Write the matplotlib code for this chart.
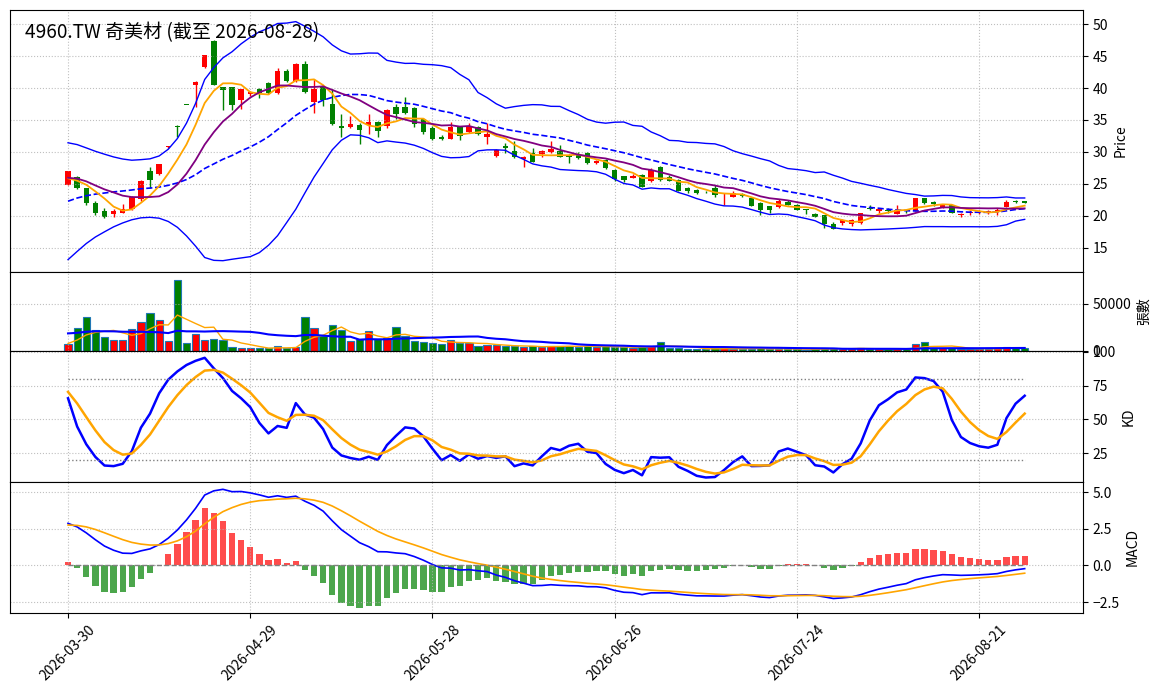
import numpy as np
import pandas as pd
import matplotlib
matplotlib.use("Agg")
import matplotlib.pyplot as plt
from matplotlib.ticker import MultipleLocator

plt.rcParams["font.family"] = ["Noto Sans CJK TC", "DejaVu Sans"]

ticker = "4960.TW"
name = "奇美材"
last_day = "2026-08-28"
holidays = ["2026-04-03", "2026-04-06", "2026-05-01", "2026-06-19"]
dates = pd.bdate_range("2026-03-30", last_day, freq="C", holidays=holidays)

# 19 sessions before the window, only used to warm up the indicators
pre_open = [14.1, 14.4, 14.9, 15.6, 16.4, 17.3, 18.4, 20.0, 21.7, 23.6,
            25.1, 25.6, 26.4, 26.7, 26.0, 25.6, 26.1, 25.3, 25.7]
pre_high = [14.5, 15.0, 15.7, 16.5, 17.4, 18.5, 20.1, 21.8, 23.7, 25.2,
            25.8, 26.6, 27.4, 27.0, 26.3, 26.5, 26.3, 25.9, 25.9]
pre_low = [13.9, 14.2, 14.7, 15.4, 16.2, 17.1, 18.2, 19.8, 21.5, 23.3,
           24.8, 25.3, 26.0, 25.8, 25.2, 25.4, 25.0, 25.1, 25.1]
pre_close = [14.3, 14.8, 15.5, 16.3, 17.2, 18.3, 19.9, 21.6, 23.5, 25.0,
             25.5, 26.3, 26.8, 26.0, 25.5, 26.2, 25.2, 25.6, 25.4]
pre_volume = [12000, 13000, 12500, 14000, 12900, 20000, 25000, 30000, 45000, 38000,
              28000, 25000, 22000, 18000, 15600, 6000, 9000, 8500, 8400]

open_ = [24.9, 26.1, 24.3, 22.0, 20.8, 20.25, 20.5, 21.05, 22.6, 27.05,
         26.5, 30.7, 34.1, 37.4, 40.4, 43.25, 47.4, 40.1, 40.1, 38.1,
         39.0, 39.85, 40.8, 39.2, 42.7, 41.15, 43.8, 37.75, 40.1, 37.5,
         34.1, 33.85, 34.25, 34.2, 34.7, 34.0, 37.1, 37.1, 36.9, 35.15,
         33.75, 32.35, 32.1, 33.95, 33.05, 33.85, 32.3, 29.3, 31.0, 30.2,
         28.9, 29.9, 29.65, 30.05, 30.1, 29.6, 29.5, 29.9, 28.25, 28.8,
         27.2, 26.25, 25.95, 26.35, 25.5, 27.7, 26.15, 25.65, 24.4, 24.1,
         23.75, 24.35, 23.05, 23.0, 23.5, 22.85, 22.0, 21.55, 21.45, 22.1,
         21.7, 21.05, 20.3, 20.15, 18.7, 18.85, 18.7, 18.85, 21.3, 20.7,
         20.9, 20.35, 20.95, 20.8, 22.8, 22.1, 21.3, 21.7, 20.15, 20.5,
         20.55, 20.45, 20.7, 21.45, 22.35, 22.3]
high = [27.1, 26.3, 24.4, 22.35, 21.3, 21.05, 21.8, 23.1, 25.6, 27.6,
        28.15, 31.0, 34.2, 37.4, 41.1, 45.1, 47.5, 40.2, 40.2, 39.9,
        39.6, 40.0, 41.0, 43.1, 42.9, 43.9, 44.15, 41.4, 40.3, 39.85,
        36.0, 35.7, 34.5, 35.9, 34.9, 36.7, 37.5, 38.65, 37.1, 35.3,
        34.1, 32.6, 34.75, 34.1, 34.5, 34.0, 34.5, 30.4, 31.35, 31.75,
        29.4, 30.55, 30.3, 31.7, 31.05, 29.7, 29.95, 30.0, 28.7, 28.9,
        27.3, 26.3, 26.6, 26.5, 27.45, 27.8, 26.35, 25.7, 24.5, 24.2,
        23.85, 24.85, 23.65, 23.9, 23.65, 22.9, 22.1, 21.6, 22.7, 22.45,
        21.8, 21.15, 20.4, 20.2, 19.0, 19.5, 19.5, 20.45, 21.7, 21.3,
        21.3, 21.7, 21.05, 22.85, 22.85, 22.35, 21.75, 21.75, 20.5, 20.85,
        20.9, 20.9, 21.3, 22.5, 22.55, 22.4]
low = [24.8, 24.2, 21.7, 20.15, 19.6, 19.85, 20.4, 20.9, 22.4, 24.4,
       26.4, 30.6, 32.3, 37.3, 37.0, 43.1, 40.4, 36.55, 36.55, 36.7,
       38.7, 38.4, 39.0, 39.1, 40.9, 41.0, 39.2, 36.1, 37.25, 34.2,
       32.3, 33.7, 31.2, 32.8, 32.3, 33.8, 35.15, 35.9, 33.85, 32.8,
       31.8, 31.8, 32.0, 31.9, 32.9, 32.6, 31.2, 29.2, 29.9, 29.1,
       27.6, 28.4, 29.2, 29.9, 29.2, 28.35, 28.9, 28.1, 28.1, 27.4,
       25.5, 25.3, 25.9, 24.5, 25.3, 25.5, 25.4, 23.85, 23.65, 23.5,
       23.6, 22.9, 21.7, 22.95, 23.0, 21.5, 20.15, 20.5, 21.3, 21.65,
       20.9, 20.3, 19.85, 18.05, 17.9, 18.6, 18.45, 18.8, 20.9, 20.45,
       20.45, 20.3, 20.45, 20.75, 21.9, 21.6, 21.2, 20.45, 19.9, 20.1,
       20.25, 20.25, 20.15, 21.4, 21.95, 21.95]
close = [27.05, 24.3, 22.0, 20.4, 19.85, 20.7, 21.15, 23.0, 25.5, 25.6,
         28.1, 30.95, 33.85, 37.35, 41.0, 45.1, 40.5, 39.7, 37.4, 39.85,
         39.3, 39.2, 39.2, 42.7, 41.05, 43.8, 39.35, 39.85, 38.2, 34.4,
         33.7, 34.4, 33.5, 34.7, 33.2, 36.6, 35.9, 36.1, 34.3, 33.15,
         31.95, 32.0, 33.95, 32.55, 34.1, 32.8, 32.8, 30.35, 30.6, 29.15,
         29.15, 28.5, 30.1, 30.45, 29.25, 29.15, 29.05, 28.2, 28.55, 27.45,
         25.75, 25.65, 26.3, 24.55, 27.2, 25.65, 25.5, 23.9, 23.9, 23.55,
         23.7, 23.3, 23.1, 23.55, 23.15, 21.55, 20.9, 20.95, 22.35, 21.7,
         20.95, 20.85, 19.9, 18.7, 18.0, 19.3, 19.3, 20.4, 21.15, 21.05,
         20.7, 20.95, 20.8, 22.8, 21.95, 21.8, 21.7, 20.5, 20.25, 20.6,
         20.65, 20.7, 20.95, 22.25, 22.1, 22.0]
volume = [7100, 24300, 36000, 22100, 14600, 11400, 11400, 23200, 30700, 40300,
          32800, 10400, 75700, 8200, 17800, 11400, 12500, 11400, 3900, 2500,
          2500, 2800, 2800, 5000, 2800, 3600, 36000, 24300, 16000, 27500,
          22500, 10000, 12500, 21000, 12500, 13200, 25300, 15700, 10400, 9300,
          8200, 7100, 11400, 8200, 8200, 5000, 6100, 6100, 5000, 5000,
          3600, 5000, 3600, 5400, 5400, 5000, 4300, 5000, 3600, 4600,
          4300, 3600, 2900, 4300, 5000, 9600, 3200, 2500, 2100, 1800,
          1500, 2600, 3200, 2200, 1600, 2400, 2600, 1900, 2300, 1500,
          1700, 1400, 1600, 2800, 2500, 2100, 2400, 2900, 1900, 1700,
          1500, 2000, 1600, 7500, 8900, 3500, 2600, 3000, 2300, 1800,
          1700, 2200, 2500, 4300, 3500, 3000]

n_pre = len(pre_close)
df = pd.DataFrame({
    "open": pre_open + open_,
    "high": pre_high + high,
    "low": pre_low + low,
    "close": pre_close + close,
    "volume": pre_volume + volume,
})

c = df["close"]
df["ma5"] = c.rolling(5).mean()
df["ma10"] = c.rolling(10).mean()
df["ma20"] = c.rolling(20).mean()
std20 = c.rolling(20).std()
df["bb_up"] = df["ma20"] + 2 * std20
df["bb_dn"] = df["ma20"] - 2 * std20
df["vma5"] = df["volume"].rolling(5).mean()
df["vma20"] = df["volume"].rolling(20).mean()

low9 = df["low"].rolling(9, min_periods=1).min()
high9 = df["high"].rolling(9, min_periods=1).max()
rsv = ((c - low9) / (high9 - low9) * 100).fillna(50)
k_vals, d_vals = [], []
k_prev, d_prev = 50.0, 50.0
for r in rsv:
    k_prev = k_prev * 2 / 3 + r / 3
    d_prev = d_prev * 2 / 3 + k_prev / 3
    k_vals.append(k_prev)
    d_vals.append(d_prev)
df["k"] = k_vals
df["d"] = d_vals

ema12 = c.ewm(span=12, adjust=False).mean()
ema26 = c.ewm(span=26, adjust=False).mean()
df["dif"] = ema12 - ema26
df["dea"] = df["dif"].ewm(span=9, adjust=False).mean()
df["osc"] = 2 * (df["dif"] - df["dea"])

df = df.iloc[n_pre:].reset_index(drop=True)
x = np.arange(len(df))
up = df["close"] > df["open"]
colors = np.where(up, "red", "green")

fig, (ax1, ax2, ax3, ax4) = plt.subplots(
    4, 1, sharex=True, figsize=(11.63, 6.98), dpi=100,
    gridspec_kw={"height_ratios": [4, 1.2, 2, 2]})
fig.subplots_adjust(left=10 / 1163, right=1083 / 1163, top=1 - 10 / 698,
                    bottom=1 - 613 / 698, hspace=0)

# price
ax1.vlines(x, df["low"], df["high"], color=colors, linewidth=1)
body = np.maximum((df["close"] - df["open"]).abs(), 0.08)
ax1.bar(x, body, bottom=np.minimum(df["open"], df["close"]), width=0.6, color=colors)
ax1.plot(x, df["bb_up"], color="blue", linewidth=1)
ax1.plot(x, df["bb_dn"], color="blue", linewidth=1)
ax1.plot(x, df["ma20"], color="blue", linestyle="--", linewidth=1.2)
ax1.plot(x, df["ma5"], color="orange", linewidth=1.3)
ax1.plot(x, df["ma10"], color="purple", linewidth=1.3)
ax1.set_ylim(11.2, 52.2)
ax1.yaxis.set_major_locator(MultipleLocator(5))
ax1.set_ylabel("Price")
ax1.text(0.014, 0.955, f"{ticker} {name} (截至 {last_day})", transform=ax1.transAxes,
         fontsize=13.7, va="top")

# volume
ax2.bar(x, df["volume"], width=0.8, color=colors, edgecolor="#1f77b4", linewidth=0.8)
ax2.plot(x, df["vma5"], color="orange", linewidth=1)
ax2.plot(x, df["vma20"], color="blue", linewidth=1.5)
ax2.set_ylim(0, 83500)
ax2.yaxis.set_major_locator(MultipleLocator(50000))
ax2.set_ylabel("張數")

# KD
ax3.plot(x, df["k"], color="blue", linewidth=1.8)
ax3.plot(x, df["d"], color="orange", linewidth=1.8)
ax3.hlines([80, 20], x[0], x[-1], colors="gray", linestyles=":", linewidth=1)
ax3.set_ylim(3.9, 100.7)
ax3.yaxis.set_major_locator(MultipleLocator(25))
ax3.set_ylabel("KD")

# MACD
osc_colors = np.where(df["osc"] >= 0, "red", "green")
ax4.bar(x, df["osc"], width=0.7, color=osc_colors, alpha=0.7)
ax4.plot(x, df["dif"], color="blue", linewidth=1.2)
ax4.plot(x, df["dea"], color="orange", linewidth=1.2)
ax4.hlines(0, x[0], x[-1], colors="gray", linestyles="--", linewidth=1)
ax4.set_ylim(-3.25, 5.69)
ax4.yaxis.set_major_locator(MultipleLocator(2.5))
ax4.set_ylabel("MACD")

tick_pos = x[::20]
ax4.set_xticks(tick_pos)
ax4.set_xticklabels([dates[i].strftime("%Y-%m-%d") for i in tick_pos], rotation=45)
ax4.set_xlim(-6.37, 111.4)

for ax in (ax1, ax2, ax3, ax4):
    ax.yaxis.tick_right()
    ax.yaxis.set_label_position("right")
    ax.grid(True, linestyle=":", alpha=0.8)

fig.savefig("out.png")
